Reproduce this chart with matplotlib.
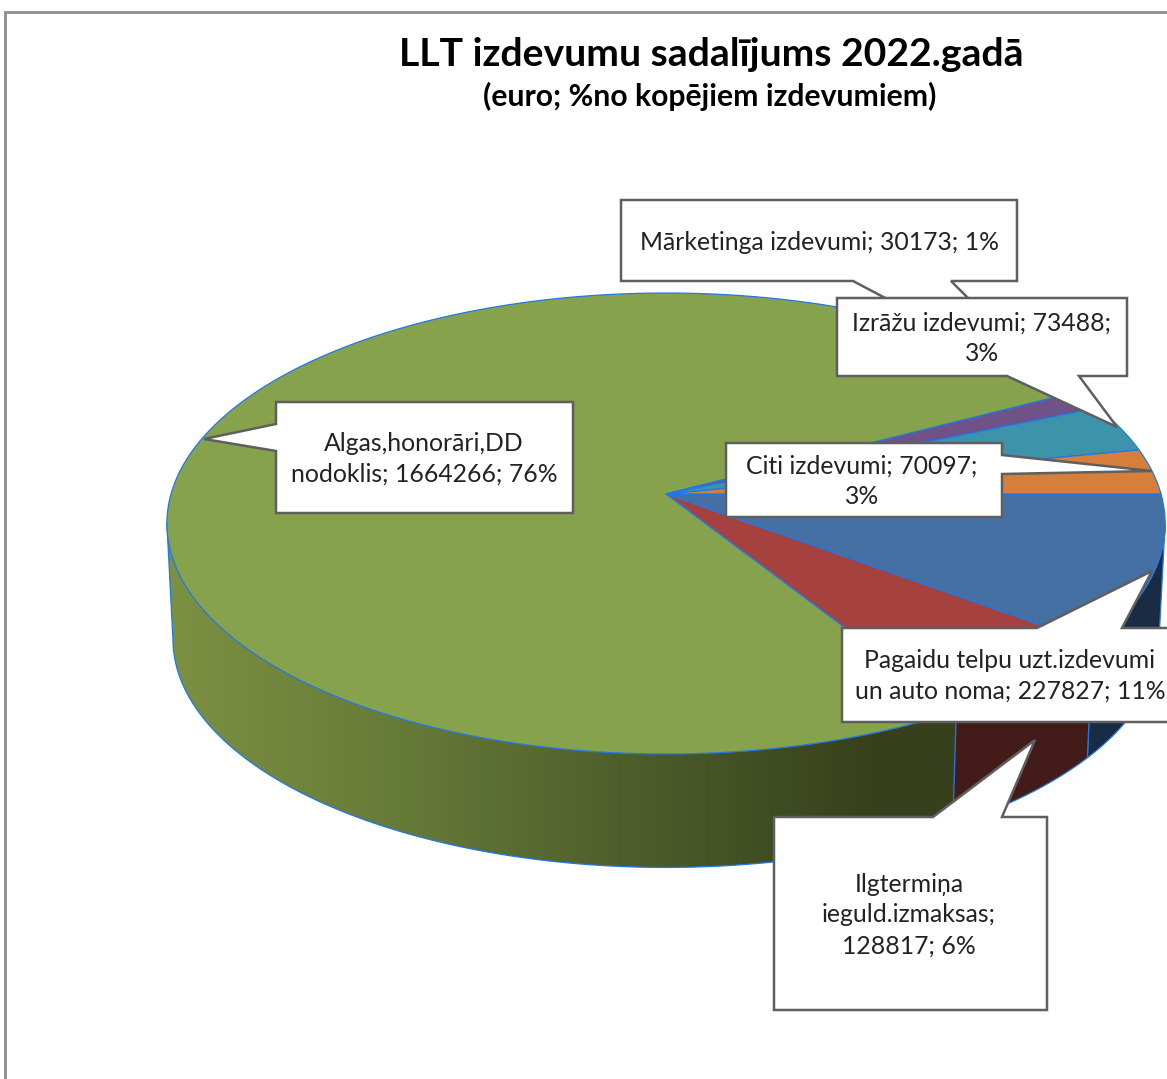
import matplotlib
matplotlib.use('Agg')
import matplotlib.pyplot as plt
import numpy as np
from matplotlib.colors import LinearSegmentedColormap
from matplotlib.patches import Polygon

# slices, clockwise from the 3 o'clock position
names = ["Pagaidu telpu uzt.izdevumi\nun auto noma", "Ilgtermiņa\nieguld.izmaksas;", "Algas,honorāri,DD\nnodoklis",
         "Mārketinga izdevumi", "Izrāžu izdevumi", "Citi izdevumi"]
values = [227827, 128817, 1664266, 30173, 73488, 70097]
percents = [11, 6, 76, 1, 3, 3]
top_colors = ['#4470A4', '#A54240', '#86A24D', '#6F5388', '#3D93AA', '#D67F3C']
side_colors = ['#1A2C44', '#431C19', None, None, None, None]

title = "LLT izdevumu sadalījums 2022.gadā"
subtitle = "(euro; %no kopējiem izdevumiem)"

EDGE = '#1F78E8'
LINE = '#5F5F5F'
FONT = 'Lato'
K = 0.128


def rim(t, y0=494, x_amp=495, y_amp=226.7):
    # perspective view of a circle, angle in degrees
    t = np.radians(t)
    d = 1 + K * np.sin(t)
    return 666 + x_amp * np.cos(t) / d, y0 - y_amp * np.sin(t) / d


def low_rim(t):
    return rim(t, y0=610, x_amp=489, y_amp=224.5)


def side_path(t0, t1):
    ts = np.linspace(t0, t1, 80)
    x1, y1 = rim(ts)
    x2, y2 = low_rim(ts)
    return np.r_[np.c_[x1, y1], np.c_[x2, y2][::-1]]


def callout(ax, pts, text, tx, ty, size=17.8):
    ax.add_patch(Polygon(pts, closed=True, fc='white', ec=LINE, lw=1.8, joinstyle='miter', zorder=5))
    ax.text(tx, ty, text, ha='center', va='center', fontsize=size, family=FONT, color='#222222',
            linespacing=1.4, zorder=6)


def main():
    fig = plt.figure(figsize=(11.67, 10.79), dpi=100)
    fig.patch.set_facecolor('white')
    ax = fig.add_axes([0, 0, 1, 1])
    ax.axis('off')

    sweeps = np.array(values) / sum(values) * 360
    ends = -np.cumsum(sweeps)
    starts = np.r_[0, ends[:-1]]

    # silhouette tangents of the wall, left and right
    tangent = np.degrees(np.arcsin(K))
    left_end = -180 + tangent
    right_start = -tangent

    # side wall, only the front shows
    green_side = LinearSegmentedColormap.from_list(
        'green_side', [(0, '#7C9142'), (0.3, '#667A38'), (0.6, '#4C5C2A'), (0.9, '#36401C'), (1, '#38411D')])
    wall_pts = side_path(starts[2], left_end)
    wall = Polygon(wall_pts, closed=True, fc='none', ec='none')
    ax.add_patch(wall)
    grad = np.linspace(0, 1, 400).reshape(1, -1)
    im = ax.imshow(grad, cmap=green_side, extent=(166, 960, 1000, 400), aspect='auto', zorder=1)
    im.set_clip_path(wall)
    ax.plot(wall_pts[79:, 0], wall_pts[79:, 1], color=EDGE, lw=0.9, zorder=1.6)
    for i, t0 in ((0, right_start), (1, starts[1])):
        ax.add_patch(Polygon(side_path(t0, ends[i]), closed=True, fc=side_colors[i], ec=EDGE, lw=0.9, zorder=1.5))

    # top of the pie
    for i in range(len(values)):
        ts = np.linspace(starts[i], ends[i], 200)
        x, y = rim(ts)
        pts = np.r_[[[666, 494]], np.c_[x, y]]
        ax.add_patch(Polygon(pts, closed=True, fc=top_colors[i], ec=EDGE, lw=0.9, joinstyle='round', zorder=2 + i * 0.01))

    # callouts
    callout(ax, [(621, 200), (1017, 200), (1017, 281), (951, 281), (1060, 390), (853, 281), (621, 281)],
            f"{names[3]}; {values[3]}; {percents[3]}%", 819, 243)
    callout(ax, [(837, 298), (1127, 298), (1127, 376), (1079, 376), (1117, 427), (1007, 376), (837, 376)],
            f"{names[4]}; {values[4]};\n{percents[4]}%", 982, 338)
    callout(ax, [(726, 443), (1002, 443), (1002, 455), (1152, 471), (1002, 474), (1002, 517), (726, 517)],
            f"{names[5]}; {values[5]};\n{percents[5]}%", 862, 481)
    callout(ax, [(842, 628), (1037, 628), (1152, 571), (1122, 628), (1180, 628), (1180, 722), (842, 722)],
            f"{names[0]}; {values[0]}; {percents[0]}%", 1010, 676)
    callout(ax, [(276, 402), (573, 402), (573, 513), (276, 513), (276, 451), (204, 439), (276, 424)],
            f"{names[2]}; {values[2]}; {percents[2]}%", 424, 459)
    callout(ax, [(774, 817), (933, 817), (1035, 740), (1002, 817), (1047, 817), (1047, 1010), (774, 1010)],
            f"{names[1]}\n{values[1]}; {percents[1]}%", 909, 915)

    ax.text(711, 54, title, ha='center', va='center', fontsize=28.2, fontweight='bold', family=FONT, color='black')
    ax.text(710, 96, subtitle, ha='center', va='center', fontsize=21.7, fontweight='bold', family=FONT, color='black')

    # chart frame runs off the right and bottom of the picture
    ax.plot([5, 5, 1200], [1100, 12, 12], color='#8C8C8C', lw=2, solid_joinstyle='miter', zorder=7)

    ax.set_xlim(0, 1167)
    ax.set_ylim(1079, 0)
    fig.savefig('out.png', dpi=100)


if __name__ == "__main__":
    main()
